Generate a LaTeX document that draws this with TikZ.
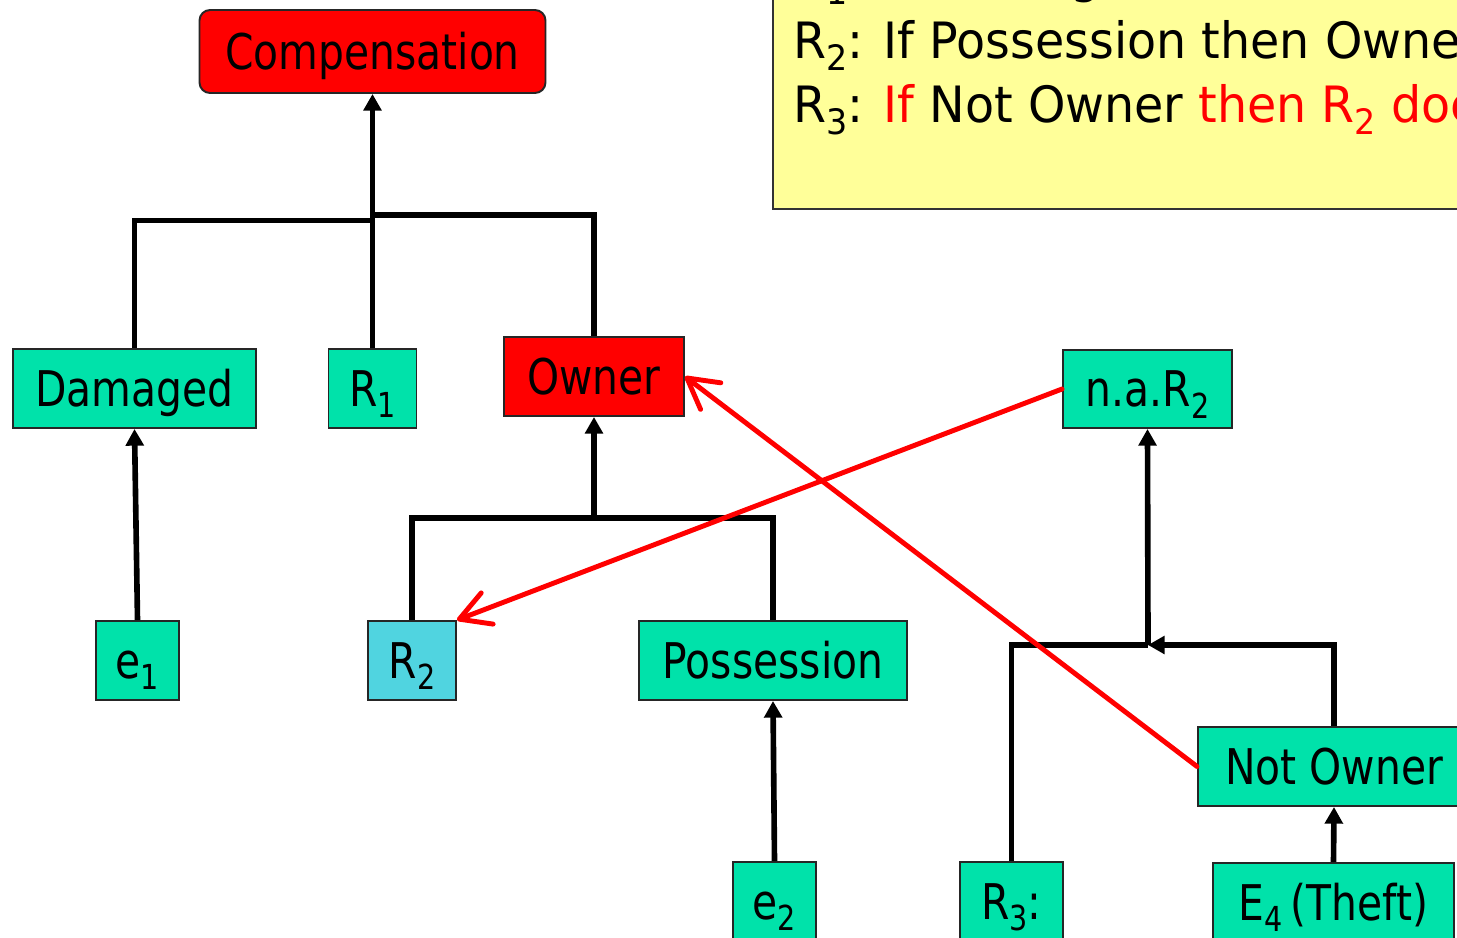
\documentclass[tikz,border=0pt]{standalone}
\usepackage{fontspec}
\setmainfont{DejaVu Sans}[FakeStretch=0.83]
\newfontfamily\rulefont{DejaVu Sans}[FakeStretch=0.95]
\usetikzlibrary{arrows.meta}
\definecolor{boxgreen}{RGB}{0,226,170}
\definecolor{boxblue}{RGB}{80,212,224}
\definecolor{notered}{RGB}{255,0,0}
\definecolor{noteyellow}{RGB}{255,255,153}
% lowered, smaller index used in the labels
\newcommand\sbs[1]{\raisebox{-0.24em}{\fontsize{0.7em}{0.7em}\selectfont #1}}

\begin{document}
\begin{tikzpicture}[x=0.02cm,y=-0.02cm,
  font=\fontsize{28}{34}\selectfont,
  box/.style 2 args={draw=black!85, line width=1.1pt, fill=boxgreen,
    minimum width=#1*0.02cm, minimum height=#2*0.02cm, inner sep=0pt,
    text height=20pt, text depth=0pt},
  link/.style={line width=3.2pt},
  up/.style={link, -{Triangle[length=9.5pt,width=10pt]}},
  rebut/.style={draw=notered, line width=2.8pt, line cap=round,
    -{Straight Barb[length=17pt,width=19pt,round]}},
  ruleline/.style={anchor=base west, inner sep=0pt,
    font=\rulefont\fontsize{28.5}{34}\selectfont}
]
\useasboundingbox (0,0) rectangle (1457,937);
\clip (0,0) rectangle (1457,937);

% rule box
\draw[fill=noteyellow, draw=black!80, line width=1.2pt] (773,-60) rectangle (1530,209);
\node[ruleline] (rl1) at (793,-8) {R\sbs{1}: If Damaged and Owner then Compensation};
\node[ruleline] (rl2) at (793,58) {R\sbs{2}: If Possession then Owner};
\node[ruleline] (rl3) at (793,122) {R\sbs{3}: \textcolor{notered}{If} Not Owner \textcolor{notered}{then R\sbs{2} does not apply}};

% argument nodes
\node[box={346}{83}, fill=notered, rounded corners=6pt] (comp) at (372.5,51.5) {Compensation};
\node[box={243}{79}] (dam) at (134.5,388.5) {Damaged};
\node[box={88}{79}] (r1) at (372.5,388.5) {R\sbs{1}};
\node[box={180}{79}, fill=notered] (own) at (594,376.5) {Owner};
\node[box={169}{78}] (nar) at (1147.5,389) {n.a.R\sbs{2}};
\node[box={83}{79}] (e1) at (137.5,660.5) {e\sbs{1}};
\node[box={88}{79}, fill=boxblue] (r2) at (412,660.5) {R\sbs{2}};
\node[box={268}{79}] (pos) at (773,660.5) {Possession};
\node[box={272}{79}] (nown) at (1334,766.5) {Not Owner};
\node[box={103}{79}] (r3) at (1011.5,901.5) {R\sbs{3}:};
\node[box={83}{79}] (e2) at (774.5,901.5) {e\sbs{2}};
\node[box={241}{79}] (e4) at (1333.5,902.5) {E\sbs{4}\,(Theft)};

% junction points of the trees
\coordinate (jl) at (372.5,220.5);
\coordinate (jr) at (372.5,215);
\coordinate (j2) at (594,518);
\coordinate (j3) at (1148,645);

% support tree of Compensation
\draw[link] (dam.north) |- (jl);
\draw[link] (jr) -| (own.north);
\draw[up] (r1.north) -- (comp.south);
\draw[up] (e1.north) -- (dam.south);

% support tree of Owner
\draw[link] (r2.north) |- (j2) -| (pos.north);
\draw[up] (j2) -- (own.south);
\draw[up] (e2.north) -- (pos.south);

% support tree of n.a.R2
\draw[link] (r3.north) |- (j3);
\draw[up] (nown.north) |- (j3);
\draw[up] (j3) -- (nar.south);
\draw[up] (e4.north) -- (nown.south);

% attacks
\draw[rebut] (nar.west) -- (r2.north east);
\draw[rebut] (nown.west) -- (own.east);
\end{tikzpicture}
\end{document}
